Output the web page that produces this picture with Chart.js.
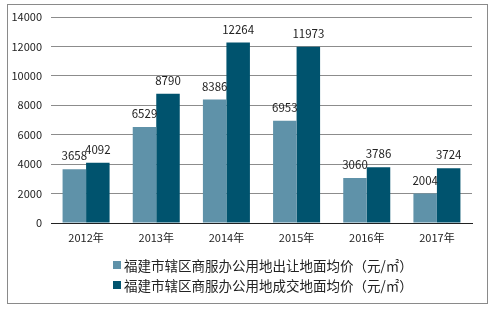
<!DOCTYPE html>
<html><head><meta charset="utf-8">
<script src="https://cdn.jsdelivr.net/npm/chart.js@4/dist/chart.umd.min.js"></script>
<style>
html,body{margin:0;padding:0;background:#fff}
#wrap{width:495px;height:310px;position:relative}
#legend{position:absolute;left:113px;top:255px;font:13.5px 'Noto Sans CJK SC','Noto Sans',sans-serif;color:#222}
#legend div{height:20px;line-height:20px;white-space:nowrap;display:flex;align-items:center}
#legend span.box{display:inline-block;width:8px;height:8px;margin-right:3px}
</style>
</head><body><div id="wrap"><canvas id="c" width="495" height="310"></canvas><div id="legend"></div></div>
<script>
const categories = ["2012年","2013年","2014年","2015年","2016年","2017年"];
const seriesNames = ["福建市辖区商服办公用地出让地面均价（元/㎡）","福建市辖区商服办公用地成交地面均价（元/㎡）"];
const transferPrice = [3658,6529,8386,6953,3060,2004];
const dealPrice = [4092,8790,12264,11973,3786,3724];
const yTicks = [0,2000,4000,6000,8000,10000,12000,14000];
const colors = ["#5f92a9","#00536e"];
const FONT = "'Noto Sans CJK SC','Noto Sans',sans-serif";

const borderPlugin = {
  id:'border',
  afterDraw(chart){
    const ctx=chart.ctx; ctx.save();
    ctx.strokeStyle='#8a8a8a'; ctx.lineWidth=1;
    ctx.strokeRect(7.5,4.5,480,299);
    ctx.restore();
  }
};
const labelPlugin = {
  id:'labels',
  afterDatasetsDraw(chart){
    const ctx=chart.ctx; ctx.save();
    ctx.font="11.5px "+FONT; ctx.fillStyle='#222'; ctx.textAlign='center'; ctx.textBaseline='alphabetic';
    chart.data.datasets.forEach((ds,i)=>{
      chart.getDatasetMeta(i).data.forEach((bar,j)=>{
        ctx.fillText(String(ds.data[j]), bar.x, bar.y-9);
      });
    });
    ctx.restore();
  }
};
const htmlLegend = {
  id:'htmlLegend',
  afterUpdate(chart){
    const box=document.getElementById('legend'); box.innerHTML='';
    chart.data.datasets.forEach(ds=>{
      const row=document.createElement('div');
      const sq=document.createElement('span'); sq.className='box'; sq.style.background=ds.backgroundColor;
      row.appendChild(sq); row.appendChild(document.createTextNode(ds.label));
      box.appendChild(row);
    });
  }
};

new Chart(document.getElementById('c'),{
  type:'bar',
  data:{labels:categories,datasets:[
    {label:seriesNames[0],data:transferPrice,backgroundColor:colors[0]},
    {label:seriesNames[1],data:dealPrice,backgroundColor:colors[1]}
  ]},
  options:{
    responsive:false,animation:false,
    layout:{padding:{left:7,right:23,top:17,bottom:59}},
    datasets:{bar:{barPercentage:1,categoryPercentage:0.67}},
    plugins:{legend:{display:false},tooltip:{enabled:false}},
    scales:{
      x:{grid:{display:false,drawTicks:false},border:{color:'#222',width:1},
         ticks:{font:{size:11,family:FONT},color:'#222',padding:8},
         afterFit(s){s.height=28;}},
      y:{min:0,max:14000,afterBuildTicks(s){s.ticks=yTicks.map(v=>({value:v}));},
         grid:{color:'#8c8c8c',drawTicks:false},border:{display:false},
         ticks:{font:{size:11,family:FONT},color:'#222',padding:9,callback:v=>String(v)},
         afterFit(s){s.width=44;}}
    }
  },
  plugins:[borderPlugin,labelPlugin,htmlLegend]
});
</script></body></html>
